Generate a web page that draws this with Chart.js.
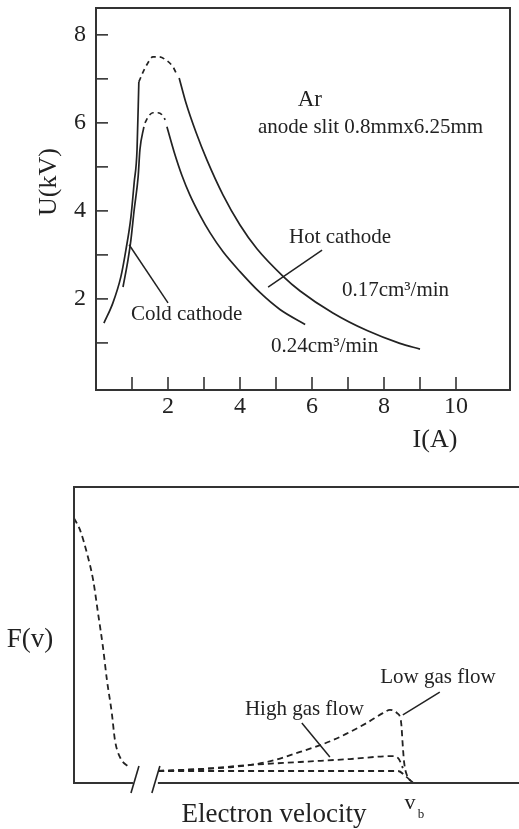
<!DOCTYPE html>
<html lang="en">
<head>
  <meta charset="UTF-8" />
  <title>Ar discharge U-I and F(v)</title>
  <script src="https://cdn.jsdelivr.net/npm/chart.js"></script>
  <style>
    body { margin: 0; background: #fff; }
    .wrap { position: relative; width: 519px; height: 829px; }
    canvas { position: absolute; left: 0; }
    #uiChart { top: 0; }
    #fvChart { top: 460px; }
  </style>
</head>
<body>
  <div class="wrap">
    <canvas id="uiChart" width="519" height="460"></canvas>
    <canvas id="fvChart" width="519" height="369"></canvas>
  </div>

  <script>
    // ---- top panel: U(kV) vs I(A) ----
    // 0.17 cm3/min curve (outer)
    const I_RISE_017 = [0.22, 0.47, 0.69, 0.83, 0.97, 1.06, 1.14, 1.19];
    const U_RISE_017 = [1.45, 1.91, 2.50, 3.11, 3.86, 4.64, 5.39, 6.93];
    const I_PEAK_017 = [1.19, 1.31, 1.44, 1.58, 1.75, 1.94, 2.14, 2.25];
    const U_PEAK_017 = [6.93, 7.16, 7.36, 7.50, 7.50, 7.43, 7.27, 7.09];
    const I_FALL_017 = [2.31, 2.50, 2.78, 3.08, 3.53, 4.00, 4.47, 5.19, 5.67, 6.58, 7.53, 8.44, 9.00];
    const U_FALL_017 = [7.02, 6.45, 5.78, 5.16, 4.36, 3.68, 3.14, 2.52, 2.18, 1.68, 1.28, 0.99, 0.86];

    // 0.24 cm3/min curve (inner)
    const I_RISE_024 = [0.75, 0.89, 0.97, 1.06, 1.17, 1.22, 1.33];
    const U_RISE_024 = [2.27, 2.89, 3.34, 4.02, 4.77, 5.39, 5.91];
    const I_PEAK_024 = [1.36, 1.47, 1.58, 1.72, 1.86, 1.92];
    const U_PEAK_024 = [6.00, 6.16, 6.23, 6.23, 6.16, 6.07];
    const I_FALL_024 = [1.97, 2.17, 2.39, 2.61, 2.89, 3.17, 3.53, 4.00, 4.56, 5.11, 5.81];
    const U_FALL_024 = [5.91, 5.34, 4.80, 4.36, 3.90, 3.50, 3.07, 2.62, 2.14, 1.76, 1.42];

    const X_TICK_LABELS = [2, 4, 6, 8, 10];
    const Y_TICK_LABELS = [2, 4, 6, 8];

    // ---- bottom panel: F(v) vs electron velocity (arbitrary units 0-100) ----
    const V_THERMAL = [0, 1.35, 2.9, 4.3, 5.4, 6.5, 7.4, 8.5, 9.2, 10.3, 12.6];
    const F_THERMAL = [89.5, 85.5, 77.7, 68.6, 57.4, 46, 34.8, 23.6, 14.5, 8.8, 5.1];
    const V_LOW = [18.9, 28.3, 35.7, 43.4, 50.8, 58.2, 65.8, 69.4, 71.0, 72.6, 73.5, 73.9, 74.2, 74.8, 76.2];
    const F_LOW = [4.05, 4.7, 5.4, 7.1, 10.5, 14.5, 20.3, 23.6, 24.7, 23.6, 20.6, 12.2, 6.8, 2.7, 0];
    const V_HIGH = [18.9, 28.3, 39.6, 50.8, 62.0, 71.7, 73.0, 73.9];
    const F_HIGH = [4.05, 4.7, 6.1, 7.1, 8.1, 9.1, 8.1, 5.0];
    const V_BASE = [18.9, 45, 72.8, 74.6, 76.2];
    const F_BASE = [4.05, 4.05, 4.05, 2.2, 0];

    const FONT = "'Liberation Serif', 'DejaVu Serif', serif";
    const INK = '#222';

    const pts = (xs, ys) => xs.map((x, i) => ({ x: x, y: ys[i] }));
    const line = (xs, ys, dash, width) => ({
      data: pts(xs, ys),
      showLine: true,
      borderColor: INK,
      borderWidth: width || 1.7,
      borderDash: dash || [],
      pointRadius: 0,
      cubicInterpolationMode: 'monotone'
    });

    // keep the plot area exactly where the axis box says
    const noPad = s => { s.paddingTop = 0; s.paddingBottom = 0; s.paddingLeft = 0; s.paddingRight = 0; };

    // draws frame, inward ticks, leader lines and free texts
    const notes = {
      id: 'notes',
      afterDatasetsDraw(chart, args, o) {
        const { ctx, chartArea: a, scales: { x, y } } = chart;
        ctx.save();
        ctx.strokeStyle = '#333';
        ctx.lineWidth = 2;
        if (o.frame === 'box') {
          ctx.strokeRect(a.left, a.top, a.right - a.left, a.bottom - a.top);
        } else if (o.frame === 'open') {
          const b1 = x.getPixelForValue(o.breakAt[0]);
          const b2 = x.getPixelForValue(o.breakAt[1]);
          ctx.beginPath();
          ctx.moveTo(a.right + 2, a.top);
          ctx.lineTo(a.left, a.top);
          ctx.lineTo(a.left, a.bottom);
          ctx.lineTo(b1 - 2, a.bottom);
          ctx.moveTo(b2 + 2, a.bottom);
          ctx.lineTo(a.right + 2, a.bottom);
          ctx.stroke();
          ctx.lineWidth = 1.6;
          ctx.strokeStyle = INK;
          [b1, b2].forEach(bx => {
            ctx.beginPath();
            ctx.moveTo(bx - 4, a.bottom + 10);
            ctx.lineTo(bx + 4, a.bottom - 17);
            ctx.stroke();
          });
        }
        if (o.ticks) {
          ctx.lineWidth = 1.6;
          ctx.strokeStyle = '#333';
          x.ticks.forEach(t => {
            if (t.value <= 0 || t.value > 10) return;
            const px = x.getPixelForValue(t.value);
            ctx.beginPath(); ctx.moveTo(px, a.bottom); ctx.lineTo(px, a.bottom - 13); ctx.stroke();
          });
          y.ticks.forEach(t => {
            if (t.value <= 0 || t.value > 8) return;
            const py = y.getPixelForValue(t.value);
            ctx.beginPath(); ctx.moveTo(a.left, py); ctx.lineTo(a.left + 12, py); ctx.stroke();
          });
        }
        ctx.strokeStyle = INK;
        ctx.lineWidth = 1.5;
        (o.leaders || []).forEach(l => {
          ctx.beginPath();
          ctx.moveTo(x.getPixelForValue(l[0]), y.getPixelForValue(l[1]));
          ctx.lineTo(x.getPixelForValue(l[2]), y.getPixelForValue(l[3]));
          ctx.stroke();
        });
        ctx.fillStyle = INK;
        ctx.textBaseline = 'middle';
        (o.texts || []).forEach(t => {
          ctx.font = (t.size || 21) + 'px ' + FONT;
          ctx.textAlign = t.align || 'left';
          ctx.fillText(t.text, x.getPixelForValue(t.x), y.getPixelForValue(t.y));
        });
        (o.titles || []).forEach(t => {
          ctx.save();
          ctx.font = t.size + 'px ' + FONT;
          ctx.textAlign = 'center';
          ctx.translate(t.px, t.py);
          if (t.rotate) ctx.rotate(t.rotate);
          ctx.fillText(t.text, 0, 0);
          ctx.restore();
        });
        ctx.restore();
      }
    };

    // Chart: U-I characteristics
    new Chart(document.getElementById('uiChart'), {
      type: 'scatter',
      data: {
        datasets: [
          line(I_RISE_017, U_RISE_017),
          line(I_PEAK_017, U_PEAK_017, [5, 4]),
          line(I_FALL_017, U_FALL_017),
          line(I_RISE_024, U_RISE_024),
          line(I_PEAK_024, U_PEAK_024, [5, 4]),
          line(I_FALL_024, U_FALL_024)
        ]
      },
      options: {
        responsive: false,
        animation: false,
        devicePixelRatio: 1,
        layout: { padding: { left: 0, top: 8, right: 9, bottom: 0 } },
        plugins: {
          legend: { display: false },
          tooltip: { enabled: false },
          notes: {
            frame: 'box',
            ticks: true,
            leaders: [
              [6.28, 3.11, 4.78, 2.27],
              [0.92, 3.23, 2.00, 1.91]
            ],
            texts: [
              { text: 'Ar', x: 5.94, y: 6.52, size: 23, align: 'center' },
              { text: 'anode slit 0.8mmx6.25mm', x: 4.50, y: 5.89 },
              { text: 'Hot cathode', x: 5.36, y: 3.39 },
              { text: '0.17cm³/min', x: 6.83, y: 2.20 },
              { text: '0.24cm³/min', x: 4.86, y: 0.91 },
              { text: 'Cold cathode', x: 0.97, y: 1.64 }
            ],
            titles: [
              { text: 'U(kV)', px: 49, py: 182, size: 26, rotate: -Math.PI / 2 },
              { text: 'I(A)', px: 435, py: 440, size: 26 }
            ]
          }
        },
        scales: {
          x: {
            type: 'linear',
            min: 0,
            max: 11.5,
            afterFit: s => { s.height = 70; noPad(s); },
            grid: { display: false, drawTicks: false },
            border: { display: false },
            ticks: {
              stepSize: 1,
              includeBounds: false,
              autoSkip: false,
              maxRotation: 0,
              padding: 2,
              color: INK,
              font: { family: FONT, size: 24 },
              callback: v => X_TICK_LABELS.includes(v) ? v : ''
            }
          },
          y: {
            type: 'linear',
            min: -0.07,
            max: 8.61,
            afterFit: s => { s.width = 96; noPad(s); },
            grid: { display: false, drawTicks: false },
            border: { display: false },
            ticks: {
              stepSize: 1,
              includeBounds: false,
              autoSkip: false,
              padding: 10,
              color: INK,
              font: { family: FONT, size: 24 },
              callback: v => Y_TICK_LABELS.includes(v) ? v : ''
            }
          }
        }
      },
      plugins: [notes]
    });

    // Chart: electron velocity distribution
    new Chart(document.getElementById('fvChart'), {
      type: 'scatter',
      data: {
        datasets: [
          line(V_THERMAL, F_THERMAL, [6, 4], 1.8),
          line(V_LOW, F_LOW, [6, 4], 1.8),
          line(V_HIGH, F_HIGH, [6, 4], 1.8),
          line(V_BASE, F_BASE, [6, 4], 1.8)
        ]
      },
      options: {
        responsive: false,
        animation: false,
        devicePixelRatio: 1,
        layout: { padding: { left: 74, top: 27, right: 0, bottom: 46 } },
        plugins: {
          legend: { display: false },
          tooltip: { enabled: false },
          notes: {
            frame: 'open',
            breakAt: [13.7, 18.4],
            leaders: [
              [82.2, 30.7, 73.9, 23.0],
              [51.2, 20.3, 57.5, 8.8]
            ],
            texts: [
              { text: 'Low gas flow', x: 68.8, y: 35.5 },
              { text: 'High gas flow', x: 38.4, y: 24.7 },
              { text: 'v', x: 75.5, y: -6.8, size: 22, align: 'center' },
              { text: 'b', x: 78.0, y: -10.8, size: 13, align: 'center' }
            ],
            titles: [
              { text: 'F(v)', px: 30, py: 180, size: 27 },
              { text: 'Electron velocity', px: 274, py: 355, size: 27 }
            ]
          }
        },
        scales: {
          x: { type: 'linear', min: 0, max: 100, display: false },
          y: { type: 'linear', min: 0, max: 100, display: false }
        }
      },
      plugins: [notes]
    });
  </script>
</body>
</html>
